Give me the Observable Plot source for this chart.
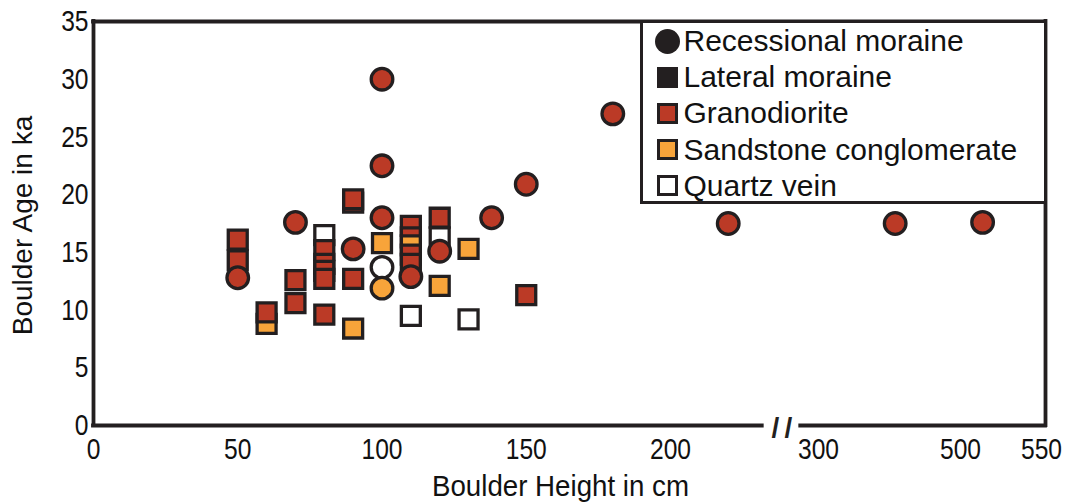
<!DOCTYPE html>
<html>
<head>
<meta charset="utf-8">
<script src="https://cdn.jsdelivr.net/npm/d3@7"></script>
<script src="https://cdn.jsdelivr.net/npm/@observablehq/plot@0.6"></script>
<style>
  html, body { margin: 0; padding: 0; background: #fff; }
  #chart { position: relative; width: 1068px; height: 502px; overflow: hidden; }
  .legend {
    position: absolute; left: 639.5px; top: 20px; width: 407px; height: 184px;
    box-sizing: border-box; border: 3px solid #231f20; background: #fff;
    font-family: "Liberation Sans", Arial, sans-serif; font-size: 30px; color: #111;
  }
  .legend .row { position: absolute; left: 0; right: 0; height: 36.2px; }
  .legend .sym { position: absolute; box-sizing: border-box; }
  .legend .label { position: absolute; left: 41px; top: 50%; transform: translateY(-50%); white-space: nowrap; line-height: 1; }
</style>
</head>
<body>
<div id="chart"></div>
<script>
// ---- Data: boulder height (cm) vs exposure age (ka) ----
const rockTypes = ["Granodiorite", "Sandstone conglomerate", "Quartz vein"];
const rockColors = ["#bb3a26", "#f8a43a", "#ffffff"];
const moraineTypes = ["Recessional moraine", "Lateral moraine"];

// Lateral moraine boulders (squares), in drawing order
const lateralHeight = [50, 50, 60, 60, 70, 70, 80, 80, 80, 80, 80, 80, 90, 90, 90, 90, 100, 110, 110, 110, 110, 110, 110, 120, 120, 120, 130, 130, 150];
const lateralAge    = [16.1, 14.3, 8.8, 9.8, 12.6, 10.6, 16.5, 15.2, 14.0, 13.4, 12.7, 9.6, 19.3, 19.6, 12.7, 8.4, 15.8, 17.3, 16.3, 15.6, 14.8, 14.0, 9.5, 18.0, 16.3, 12.1, 15.3, 9.2, 11.3];
const lateralRock   = ["G", "G", "S", "G", "G", "G", "Q", "G", "G", "G", "G", "G", "G", "G", "G", "S", "S", "G", "G", "S", "G", "G", "Q", "G", "Q", "S", "S", "Q", "G"];

// Recessional moraine boulders (circles), in drawing order
const recessionalHeight = [50, 70, 90, 100, 100, 100, 100, 100, 110, 120, 138, 150, 180, 239, 408, 513];
const recessionalAge    = [12.8, 17.6, 15.3, 30.0, 22.5, 18.0, 13.7, 11.9, 12.9, 15.1, 18.0, 20.9, 27.0, 17.5, 17.5, 17.6];
const recessionalRock   = ["G", "G", "G", "G", "G", "G", "Q", "S", "G", "G", "G", "G", "G", "G", "G", "G"];

// Axis ticks; the height axis is broken between 200 and 300 cm
const xTicks = [0, 50, 100, 150, 200, 300, 500];
const xLastTick = [550];
const yTicks = [0, 5, 10, 15, 20, 25, 30, 35];
const xBreaks = [0, 200, 300, 500, 550];
const xTitle = "Boulder Height in cm";
const yTitle = "Boulder Age in ka";

// ---- Build tables ----
const rockName = {G: rockTypes[0], S: rockTypes[1], Q: rockTypes[2]};
const lateral = lateralHeight.map((h, i) => ({height: h, age: lateralAge[i], rock: rockName[lateralRock[i]]}));
const recessional = recessionalHeight.map((h, i) => ({height: h, age: recessionalAge[i], rock: rockName[recessionalRock[i]]}));

const ink = "#231f20";
const font = '"Liberation Sans", Arial, sans-serif';
const gapFrom = 262, gapTo = 288, gapMid = 275;
const tickStyle = {tickSize: 0, tickPadding: 12, fontSize: 30, label: null, fill: "#111"};

const plot = Plot.plot({
  width: 1068,
  height: 502,
  marginLeft: 93,
  marginRight: 23,
  marginTop: 21,
  marginBottom: 77,
  style: {background: "#fff", color: "#111", overflow: "visible", fontFamily: font},
  // piecewise linear scale: the segment beyond the break is compressed
  x: {type: "linear", domain: xBreaks, range: [93, 670, 818, 960, 1045]},
  y: {type: "linear", domain: [0, 35]},
  color: {domain: rockTypes, range: rockColors},
  marks: [
    // frame with the axis break on the bottom edge
    Plot.ruleX([0, 550], {y1: 0, y2: 35, stroke: ink, strokeWidth: 3.8, strokeLinecap: "square"}),
    Plot.ruleY([35], {x1: 0, x2: 550, stroke: ink, strokeWidth: 3.8, strokeLinecap: "square"}),
    Plot.ruleY([0], {x1: 0, x2: gapFrom, stroke: ink, strokeWidth: 3.8, strokeLinecap: "square"}),
    Plot.ruleY([0], {x1: gapTo, x2: 550, stroke: ink, strokeWidth: 3.8, strokeLinecap: "square"}),
    Plot.text(["/"], {x: gapMid, y: 0, dx: -6, dy: 3, text: d => d, fontSize: 28, fontWeight: "bold", fill: ink}),
    Plot.text(["/"], {x: gapMid, y: 0, dx: 7, dy: 3, text: d => d, fontSize: 28, fontWeight: "bold", fill: ink}),
    Plot.axisX(xTicks, tickStyle),
    Plot.axisX(xLastTick, {...tickStyle, dx: -4}),
    Plot.axisY(yTicks, {tickSize: 0, tickPadding: 5, fontSize: 30, label: null, fill: "#111"}),
    Plot.text([xTitle], {frameAnchor: "bottom", lineAnchor: "middle", textAnchor: "middle", dx: -9, dy: 61, text: d => d, fontSize: 30, fill: "#111"}),
    Plot.text([yTitle], {frameAnchor: "left", lineAnchor: "middle", textAnchor: "middle", dx: -70, dy: 2, rotate: -90, text: d => d, fontSize: 28, fill: "#111"}),
    // boulders
    Plot.dot(lateral, {x: "height", y: "age", symbol: "square", r: 10.7, fill: "rock", stroke: ink, strokeWidth: 3.3}),
    Plot.dot(recessional, {x: "height", y: "age", symbol: "circle", r: 10.8, fill: "rock", stroke: ink, strokeWidth: 3.3})
  ]
});

const chart = document.getElementById("chart");
chart.appendChild(plot);

// Narrow the axis typography (condensed look)
function condense(texts, factor, fixed) {
  texts.forEach(t => {
    const w = t.getComputedTextLength();
    t.setAttribute("textLength", fixed ?? (w * factor));
    t.setAttribute("lengthAdjust", "spacingAndGlyphs");
  });
}
condense(plot.querySelectorAll('g[aria-label="x-axis tick label"] text'), 0.82);
condense(plot.querySelectorAll('g[aria-label="y-axis tick label"] text'), 0.82);
condense([...plot.querySelectorAll("text")].filter(t => t.textContent === xTitle), 0.82, 257);

// ---- Legend: moraine type by shape, rock type by fill ----
const legendItems = [
  {label: moraineTypes[0], shape: "circle", fill: ink},
  {label: moraineTypes[1], shape: "square", fill: ink},
  ...rockTypes.map((r, i) => ({label: r, shape: "square", fill: rockColors[i], outlined: true}))
];
const legend = document.createElement("div");
legend.className = "legend";
legendItems.forEach((item, i) => {
  const row = document.createElement("div");
  row.className = "row";
  row.style.top = (i * 36.2) + "px";
  const sym = document.createElement("div");
  sym.className = "sym";
  if (item.shape === "circle") {
    Object.assign(sym.style, {width: "25px", height: "25px", left: "12.5px", top: "5.6px", borderRadius: "50%", background: item.fill});
  } else {
    Object.assign(sym.style, {width: "21px", height: "21px", left: "14.5px", top: "7.6px", background: item.fill,
      border: item.outlined ? `3.3px solid ${ink}` : "none"});
  }
  const label = document.createElement("span");
  label.className = "label";
  label.textContent = item.label;
  row.appendChild(sym);
  row.appendChild(label);
  legend.appendChild(row);
});
chart.appendChild(legend);
</script>
</body>
</html>
